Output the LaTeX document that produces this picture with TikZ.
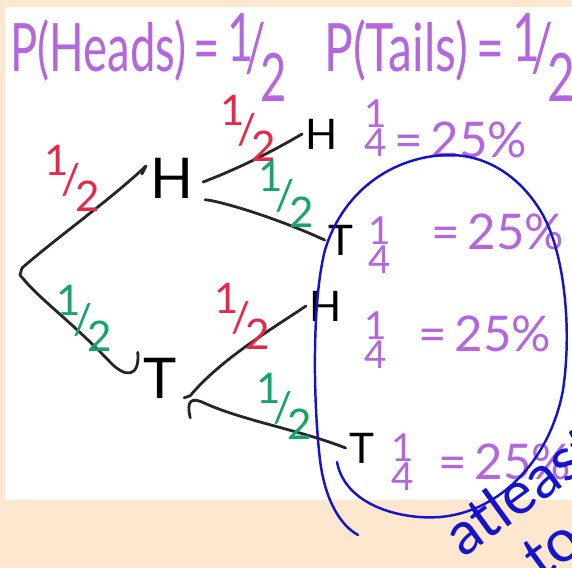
\documentclass[tikz,border=0pt]{standalone}
\usepackage{fontspec}
\setmainfont{Lato}
\definecolor{peach}{HTML}{FDE8CF}
\definecolor{inkpurple}{HTML}{B466DC}
\definecolor{inkred}{HTML}{E42A48}
\definecolor{inkgreen}{HTML}{14A46C}
\definecolor{inkblue}{HTML}{1414CC}
\newcommand{\halfsym}{\raisebox{0.45em}{1}\kern-0.18em/\kern-0.12em\raisebox{-0.4em}{2}}
\newcommand{\titlehalf}{\raisebox{0.15em}{1}\kern-0.18em/\kern-0.12em\raisebox{-0.45em}{2}}
\newcommand{\quartersym}{\shortstack{1\\[-0.1em]4}}
\newcommand{\narrowtext}[2]{\scalebox{#1}[1]{#2}}

\begin{document}
\begin{tikzpicture}[x=0.02cm,y=-0.02cm,
    branch/.style={line width=1.6pt,black!85,line cap=round,line join=round},
    pick/.style={font=\fontsize{32}{32}\selectfont,inner sep=3pt},
    leaf/.style={font=\fontsize{24}{24}\selectfont,inner sep=2pt},
    redhalf/.style={text=inkred,font=\fontsize{24}{24}\selectfont},
    greenhalf/.style={text=inkgreen,font=\fontsize{24}{24}\selectfont},
    share/.style={text=inkpurple,font=\fontsize{28}{28}\selectfont},
    quarter/.style={text=inkpurple,font=\fontsize{22}{22}\selectfont},
    title/.style={text=inkpurple,font=\fontsize{38}{38}\selectfont,anchor=west}]
  \useasboundingbox (0,0) rectangle (572,568);
  \clip (0,0) rectangle (572,568);
  \fill[peach] (0,0) rectangle (572,568);
  \fill[white] (5,7) rectangle (572,500);

  % headings
  \node[title] (pheads) at (4,58) {\narrowtext{0.68}{P(Heads)\,=\,\titlehalf}};
  \node[title] (ptails) at (318,58) {\narrowtext{0.72}{P(Tails)\,=\,\titlehalf}};

  % tree
  \coordinate (root) at (22,268);
  \node[pick] (h) at (172,178) {H};
  \node[pick] (t) at (160,378) {T};
  \node[leaf] (hh) at (322,134) {H};
  \node[leaf] (ht) at (341,240) {T};
  \node[leaf] (th) at (326,306) {H};
  \node[leaf] (tt) at (362,448) {T};

  \draw[branch] (root) .. controls (60,235) and (110,200) .. (146,166) -- ++(-4,8);
  \draw[branch] (root) -- (20,275) .. controls (40,300) and (70,320) .. (110,362)
    .. controls (125,378) and (140,378) .. (t.north west);
  \draw[branch] (h.east) ++(4,4) .. controls (240,168) and (275,150) .. (hh.west);
  \draw[branch] (h.south east) ++(6,-4) .. controls (215,200) and (270,215) .. (ht.west);
  \draw[branch] (t.south east) ++(2,-6) -- ++(6,-2) .. controls (220,360) and (270,330) .. (th.west);
  \draw[branch] (t.south east) ++(8,14) .. controls (186,400) and (192,398) .. (202,402)
    .. controls (240,420) and (300,430) .. (tt.west);

  % branch probabilities
  \node[redhalf] (p1) at (72,178) {\halfsym};
  \node[greenhalf] (p2) at (84,318) {\halfsym};
  \node[redhalf] (p3) at (248,128) {\halfsym};
  \node[greenhalf] (p4) at (286,194) {\halfsym};
  \node[redhalf] (p5) at (242,316) {\halfsym};
  \node[greenhalf] (p6) at (284,406) {\halfsym};

  % outcomes
  \node[quarter] (q1) at (376,128) {\quartersym};
  \node[share,anchor=west] (s1) at (388,140) {=\,25\%};
  \node[quarter] (q2) at (380,245) {\quartersym};
  \node[share,anchor=west] (s2) at (425,232) {=\,25\%};
  \node[quarter] (q3) at (376,340) {\quartersym};
  \node[share,anchor=west] (s3) at (412,334) {=\,25\%};
  \node[quarter] (q4) at (403,462) {\quartersym};
  \node[share,anchor=west] (s4) at (432,462) {=\,25\%};

  % circled outcomes
  \draw[inkblue,line width=1.4pt,line cap=round] (337,462) .. controls (345,505) and (400,520) .. (440,517)
    .. controls (500,512) and (550,460) .. (563,390)
    .. controls (572,330) and (565,250) .. (540,210)
    .. controls (515,170) and (480,155) .. (450,155)
    .. controls (400,155) and (345,185) .. (325,250)
    .. controls (312,300) and (313,400) .. (320,460)
    .. controls (325,500) and (340,525) .. (358,535);
  \node[text=inkblue,font=\fontsize{34}{34}\selectfont,rotate=36,anchor=south west] (note1) at (462,568) {atleast};
  \node[text=inkblue,font=\fontsize{34}{34}\selectfont,rotate=36,anchor=south west] (note2) at (540,590) {to};
\end{tikzpicture}
\end{document}
